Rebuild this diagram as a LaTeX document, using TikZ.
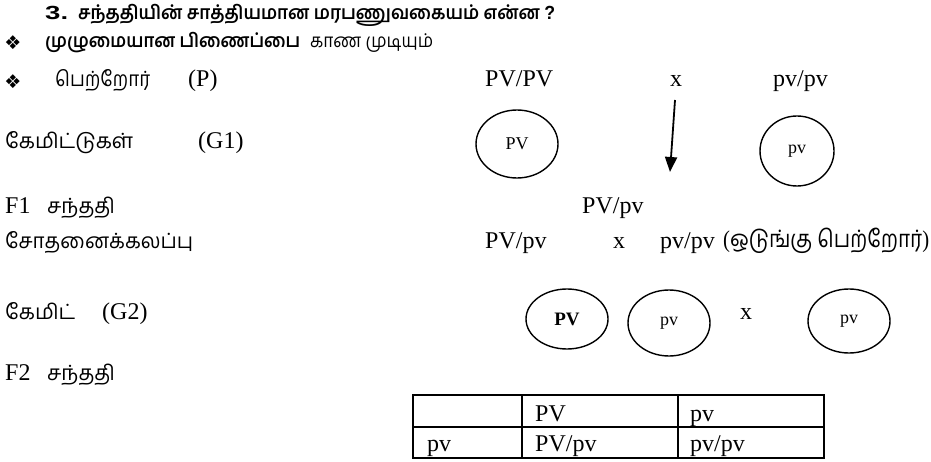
\documentclass[tikz,border=0pt]{standalone}
\usepackage{fontspec}
\usepackage{graphicx}
\setmainfont{Liberation Serif}
\newfontfamily\tam[Script=Tamil]{Hind Madurai}
\newfontfamily\arialf{Liberation Sans}
\newfontfamily\dejavu{DejaVu Sans}
\usetikzlibrary{arrows.meta,shapes.geometric}
\newcommand\fitw[2]{\resizebox{#1}{\height}{#2}}
\tikzset{
  txt/.style={anchor=base west, inner sep=0pt, font=\fontsize{24}{28}\selectfont},
  tamt/.style={anchor=base west, inner sep=0pt, font=\fontsize{21}{26}\selectfont\tam},
  hdr/.style={anchor=base west, inner sep=0pt, font=\fontsize{19}{22}\selectfont\tam},
  bul/.style={anchor=center, inner sep=0pt, font=\fontsize{19}{20}\selectfont\dejavu},
  gam/.style={draw, ellipse, line width=1.4pt, inner sep=0pt, font=\fontsize{18}{20}\selectfont},
  tline/.style={line width=1.8pt},
  arr/.style={-{Triangle[width=12pt,length=15pt]}, line width=1.8pt}
}
\begin{document}
\begin{tikzpicture}[x=1pt,y=-1pt]
\useasboundingbox (0,0) rectangle (931,462);
\clip (0,0) rectangle (931,462);
% header
\node[hdr] (num) at (45,20) {\fitw{23pt}{\arialf\bfseries 3.}};
\node[hdr] (title) at (78,20) {\fitw{477pt}{\bfseries சந்ததியின் சாத்தியமான மரபணுவகையம் என்ன {\arialf ?}}};
\node[bul] (b1) at (13,43) {❖};
\node[hdr] (l2a) at (45,48) {\fitw{255pt}{\bfseries முழுமையான பிணைப்பை}};
\node[hdr] (l2b) at (310,48) {\fitw{123pt}{காண முடியும்}};
\node[bul] (b2) at (13,82) {❖};
\node[tamt] (par) at (55,87) {\fitw{95pt}{பெற்றோர்}};
\node[txt] (parP) at (188,87) {(P)};
\node[txt] (p1) at (485,87) {PV/PV};
\node[txt] (px) at (670,87) {x};
\node[txt] (p2) at (773,87) {pv/pv};
% G1
\node[tamt] (g1l) at (5,149) {\fitw{128pt}{கேமிட்டுகள்}};
\node[txt] (g1t) at (198,149) {(G1)};
\node[gam, minimum width=82pt, minimum height=68pt] (ga) at (517,144) {PV};
\node[gam, minimum width=74pt, minimum height=70pt] (gb) at (797,151) {pv};
\coordinate (a1) at (675,100);
\coordinate (a2) at (670,172);
\draw[arr] (a1) -- (a2);
% F1
\node[txt] (f1a) at (5,214) {F1};
\node[tamt] (f1b) at (47,214) {\fitw{68pt}{சந்ததி}};
\node[txt] (f1g) at (582,214) {PV/pv};
% test cross
\node[tamt] (tc) at (5,248) {\fitw{188pt}{சோதனைக்கலப்பு}};
\node[txt] (tc1) at (485,248) {PV/pv};
\node[txt] (tcx) at (613,248) {x};
\node[txt] (tc2) at (660,248) {pv/pv};
\node[txt] (tc3) at (723,248) {\fitw{206pt}{(\tam ஒடுங்கு பெற்றோர்\rmfamily)}};
% G2
\node[tamt] (g2l) at (5,319) {\fitw{70pt}{கேமிட்}};
\node[txt] (g2t) at (102,319) {(G2)};
\node[gam, minimum width=82pt, minimum height=60pt, font=\fontsize{19}{20}\selectfont\bfseries] (gc) at (567,319) {PV};
\node[gam, minimum width=82pt, minimum height=66pt] (gd) at (669,323) {pv};
\node[txt] (g2x) at (740,319) {x};
\node[gam, minimum width=82pt, minimum height=64pt] (ge) at (849,321) {pv};
% F2
\node[txt] (f2a) at (5,380) {F2};
\node[tamt] (f2b) at (47,380) {\fitw{68pt}{சந்ததி}};
% table
\draw[tline] (413,395) rectangle (824,458);
\draw[tline] (413,427) -- (824,427);
\draw[tline] (522,395) -- (522,458);
\draw[tline] (678,395) -- (678,458);
\node[txt] (t01) at (535,421) {PV};
\node[txt] (t02) at (690,421) {pv};
\node[txt] (t10) at (427,451) {pv};
\node[txt] (t11) at (535,451) {PV/pv};
\node[txt] (t12) at (690,451) {pv/pv};
\end{tikzpicture}
\end{document}
